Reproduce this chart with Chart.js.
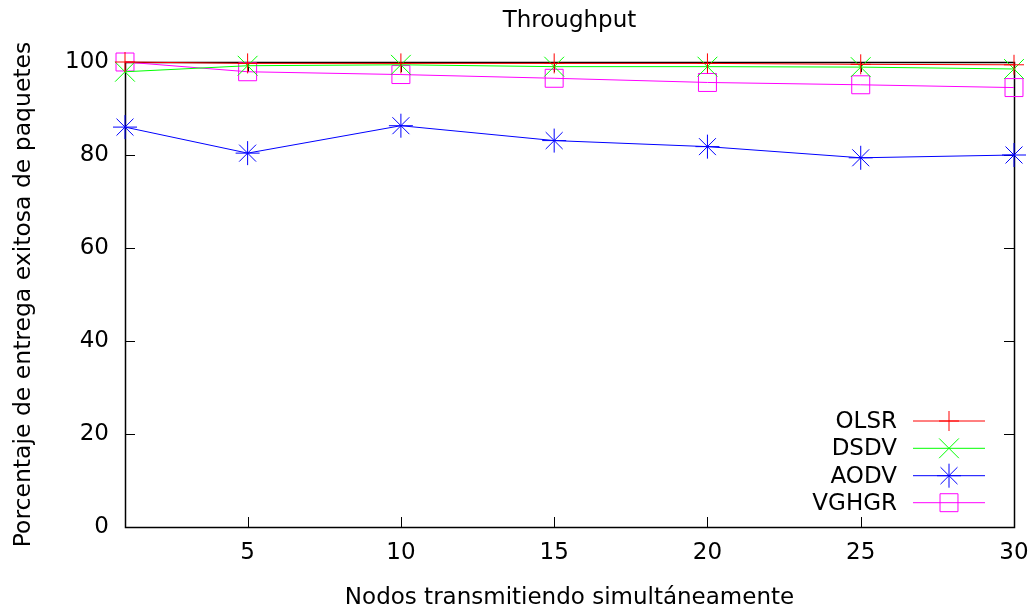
<!DOCTYPE html>
<html>
<head>
<meta charset="utf-8">
<script src="https://cdn.jsdelivr.net/npm/chart.js@4.4.1/dist/chart.umd.min.js"></script>
<style>
  html, body { margin: 0; padding: 0; background: #ffffff; }
  #wrap { width: 1036px; height: 607px; }
</style>
</head>
<body>
<div id="wrap"><canvas id="c" width="1036" height="607"></canvas></div>
<script>
// ---- Data ----
const nodes = [1, 5, 10, 15, 20, 25, 30];
const olsr  = [100, 99.7, 99.7, 99.7, 99.7, 99.5, 99.4];
const dsdv  = [97.9, 99.2, 99.4, 99.0, 99.0, 98.9, 98.5];
const aodv  = [86.0, 80.4, 86.3, 83.1, 81.8, 79.4, 80.0];
const vghgr = [100, 97.9, 97.3, 96.5, 95.6, 95.1, 94.5];
const seriesNames = ['OLSR', 'DSDV', 'AODV', 'VGHGR'];
const xTickValues = [5, 10, 15, 20, 25, 30];
const yTickValues = [0, 20, 40, 60, 80, 100];
const titleText = 'Throughput';
const xTitle = 'Nodos transmitiendo simultáneamente';
const yTitle = 'Porcentaje de entrega exitosa de paquetes';

const FONT = 'DejaVu Sans';
const FS = 23;

function pts(vals) { return nodes.map((x, i) => ({ x: x, y: vals[i] })); }

const styles = [
  { color: '#ff0000', pointStyle: 'cross',    r: 10 },
  { color: '#00ff00', pointStyle: 'crossRot', r: 14 },
  { color: '#0000ff', pointStyle: 'star',     r: 12 },
  { color: '#ff00ff', pointStyle: 'rect',     r: 12.7 }
];
const allVals = [olsr, dsdv, aodv, vghgr];

const datasets = allVals.map((v, i) => ({
  label: seriesNames[i],
  data: pts(v),
  borderColor: styles[i].color,
  backgroundColor: 'rgba(0,0,0,0)',
  pointBorderColor: styles[i].color,
  pointBackgroundColor: 'rgba(0,0,0,0)',
  pointStyle: styles[i].pointStyle,
  pointRadius: styles[i].r,
  pointHoverRadius: styles[i].r,
  pointBorderWidth: 1,
  borderWidth: 1,
  tension: 0,
  clip: false
}));

// Box border + inward mirrored ticks (gnuplot style), title and key
const frame = {
  id: 'frame',
  beforeDatasetsDraw(chart) {
    const { ctx, chartArea: a, scales } = chart;
    ctx.save();
    ctx.strokeStyle = '#000000';
    ctx.lineWidth = 1;
    ctx.beginPath();
    const TL = 10;
    xTickValues.forEach(v => {
      const px = Math.round(scales.x.getPixelForValue(v)) + 0.5;
      ctx.moveTo(px, a.bottom); ctx.lineTo(px, a.bottom - TL);
      ctx.moveTo(px, a.top); ctx.lineTo(px, a.top + TL);
    });
    yTickValues.forEach(v => {
      const py = Math.round(scales.y.getPixelForValue(v)) + 0.5;
      ctx.moveTo(a.left, py); ctx.lineTo(a.left + TL, py);
      ctx.moveTo(a.right, py); ctx.lineTo(a.right - TL, py);
    });
    ctx.stroke();
    ctx.lineWidth = 1.5;
    ctx.strokeRect(Math.round(a.left) + 0.5, Math.round(a.top) + 0.5,
                   Math.round(a.right - a.left), Math.round(a.bottom - a.top));
    // title
    ctx.fillStyle = '#000000';
    ctx.font = FS + 'px "' + FONT + '"';
    ctx.textAlign = 'center';
    ctx.textBaseline = 'middle';
    ctx.fillText(titleText, (a.left + a.right) / 2, 21);
    ctx.restore();
  },
  afterDatasetsDraw(chart) {
    const { ctx, chartArea: a } = chart;
    const rowY = [421, 448.3, 475.7, 502.7];
    const textRight = a.right - 117;
    const lineL = a.right - 101, lineR = a.right - 29;
    const symX = (lineL + lineR) / 2;
    ctx.save();
    ctx.font = FS + 'px "' + FONT + '"';
    ctx.textAlign = 'right';
    ctx.textBaseline = 'middle';
    chart.data.datasets.forEach((ds, i) => {
      const y = rowY[i];
      ctx.fillStyle = '#000000';
      ctx.fillText(ds.label, textRight, y + 1);
      ctx.strokeStyle = ds.borderColor;
      ctx.lineWidth = 1;
      ctx.beginPath();
      ctx.moveTo(lineL, y); ctx.lineTo(lineR, y);
      ctx.stroke();
      ctx.fillStyle = 'rgba(0,0,0,0)';
      Chart.helpers.drawPoint(ctx, {
        pointStyle: ds.pointStyle, rotation: 0, radius: ds.pointRadius, borderWidth: 1
      }, symX, y);
    });
    ctx.restore();
  }
};

new Chart(document.getElementById('c'), {
  type: 'line',
  data: { datasets: datasets },
  options: {
    responsive: false,
    animation: false,
    devicePixelRatio: 1,
    layout: { padding: { left: 0, right: 22, top: 62, bottom: 0 } },
    plugins: {
      legend: { display: false },
      tooltip: { enabled: false },
      title: { display: false }
    },
    scales: {
      x: {
        type: 'linear',
        min: 1, max: 30,
        grid: { display: false, drawTicks: false },
        border: { display: false },
        afterBuildTicks(s) { s.ticks = xTickValues.map(v => ({ value: v })); },
        afterFit(s) { s.height = 80; s.paddingLeft = 0; s.paddingRight = 0; },
        ticks: {
          color: '#000000',
          font: { family: FONT, size: FS },
          padding: 12,
          maxRotation: 0,
          callback: v => String(v)
        },
        title: {
          display: true, text: xTitle, color: '#000000',
          font: { family: FONT, size: FS, lineHeight: 0.8 },
          padding: { top: 0, bottom: 0 }
        }
      },
      y: {
        type: 'linear',
        min: 0, max: 100,
        grid: { display: false, drawTicks: false },
        border: { display: false },
        afterBuildTicks(s) { s.ticks = yTickValues.map(v => ({ value: v })); },
        afterFit(s) { s.width = 125; s.paddingTop = 0; s.paddingBottom = 0; },
        ticks: {
          color: '#000000',
          font: { family: FONT, size: FS },
          padding: 16,
          callback: v => String(v)
        },
        title: {
          display: true, text: yTitle, color: '#000000',
          font: { family: FONT, size: 23.5, lineHeight: 1.2 },
          padding: { top: 10, bottom: 0 }
        }
      }
    }
  },
  plugins: [frame]
});
</script>
</body>
</html>
